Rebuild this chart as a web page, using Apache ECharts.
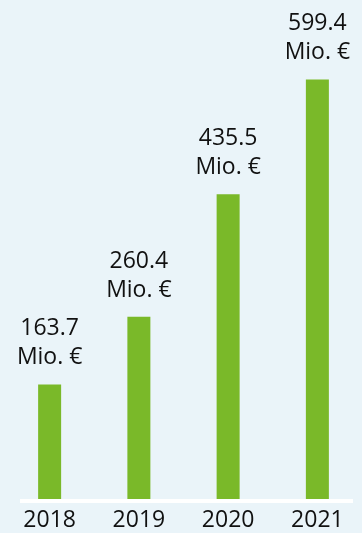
<!DOCTYPE html>
<html>
<head>
<meta charset="utf-8">
<script src="https://cdn.jsdelivr.net/npm/echarts@6/dist/echarts.min.js"></script>
<style>
  html, body { margin: 0; padding: 0; background: #eaf4f9; }
  #chart { width: 362px; height: 533px; }
</style>
</head>
<body>
<div id="chart"></div>
<script>
// Revenue per year, in million euros
const years = ['2018', '2019', '2020', '2021'];
const revenue = [163.7, 260.4, 435.5, 599.4];
const unit = 'Mio. €';

const chart = echarts.init(document.getElementById('chart'), null, { renderer: 'canvas' });

const font = '"Open Sans", "Noto Sans", sans-serif';

chart.setOption({
  backgroundColor: '#eaf4f9',
  animation: false,
  grid: { left: 5, right: -6, top: 9, bottom: 34 },
  xAxis: {
    type: 'category',
    data: years,
    axisLine: { show: false },
    axisTick: { show: false },
    axisLabel: {
      color: '#111111',
      fontFamily: font,
      fontSize: 23,
      margin: 10
    }
  },
  yAxis: {
    type: 'value',
    min: 0,
    max: 700,
    show: false,
    splitLine: { show: false }
  },
  graphic: [{
    type: 'rect',
    shape: { x: 20, y: 499, width: 333, height: 4 },
    style: { fill: '#ffffff' },
    z: 10
  }],
  series: [{
    type: 'bar',
    data: revenue,
    barWidth: 23,
    itemStyle: { color: '#7ab929' },
    label: {
      show: true,
      position: 'top',
      distance: 12,
      color: '#111111',
      fontFamily: font,
      fontSize: 23,
      lineHeight: 29,
      align: 'center',
      formatter: p => p.value.toFixed(1) + '\n' + unit
    }
  }]
});
</script>
</body>
</html>
